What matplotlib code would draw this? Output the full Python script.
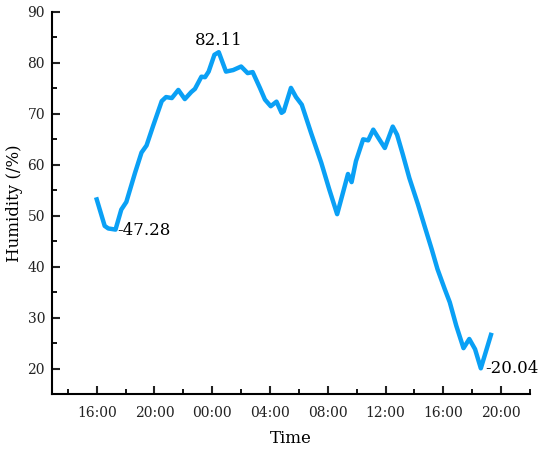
import numpy as np
import matplotlib
matplotlib.use('Agg')
import matplotlib.pyplot as plt
from matplotlib.ticker import MultipleLocator, FuncFormatter

plt.rcParams['font.family'] = ['DejaVu Serif']

# hours counted from 00:00 of the first day (24+ = next day)
hours = [16.0, 16.55, 16.8, 17.3, 17.7, 18.05, 18.65, 19.1, 19.45, 19.9,
         20.5, 20.8, 21.2, 21.65, 22.1, 22.55, 22.8, 23.25, 23.5, 23.75,
         24.15, 24.45, 24.95, 25.45, 26.0, 26.45, 26.8, 27.3, 27.65, 28.05,
         28.45, 28.8, 28.95, 29.45, 29.8, 30.2, 30.85, 31.55, 32.1, 32.65,
         33.05, 33.4, 33.65, 33.95, 34.45, 34.8, 35.15, 35.5, 35.95, 36.5,
         36.8, 37.2, 37.65, 38.25, 38.7, 39.2, 39.6, 40.1, 40.45, 40.9,
         41.4, 41.8, 42.2, 42.6, 43.3]
humidity = [53.2, 48.0, 47.5, 47.28, 51.2, 52.7, 58.4, 62.4, 63.8, 67.6,
            72.5, 73.3, 73.1, 74.7, 72.9, 74.3, 74.9, 77.3, 77.2, 78.3,
            81.6, 82.11, 78.3, 78.6, 79.3, 78.0, 78.2, 75.1, 72.8, 71.5,
            72.4, 70.2, 70.5, 75.1, 73.3, 71.8, 66.2, 60.4, 55.2, 50.3,
            54.5, 58.2, 56.6, 60.7, 65.0, 64.8, 66.9, 65.3, 63.3, 67.5,
            65.9, 62.0, 57.4, 52.2, 48.0, 43.4, 39.5, 35.6, 33.0, 28.4,
            24.0, 25.8, 23.8, 20.04, 26.6]

hours = np.array(hours)
humidity = np.array(humidity)

fig = plt.figure(figsize=(5.5, 4.51), dpi=100)
ax = fig.add_axes([0.0945, 0.1264, 0.869, 0.847])

ax.plot(hours, humidity, color='#0aa0f5', linewidth=3.2, solid_joinstyle='round')

# labels for max / min points
i_max = int(np.argmax(humidity))
ax.annotate(f'{humidity[i_max]:.2f}', (hours[i_max], humidity[i_max]),
            xytext=(0, 2), textcoords='offset points', ha='center', va='bottom',
            fontsize=12)
i_min1 = int(np.argmin(humidity[:10]))
ax.annotate(f'-{humidity[i_min1]:.2f}', (hours[i_min1], humidity[i_min1]),
            xytext=(1, -1), textcoords='offset points', ha='left', va='center',
            fontsize=12)
i_min = int(np.argmin(humidity))
ax.annotate(f'-{humidity[i_min]:.2f}', (hours[i_min], humidity[i_min]),
            xytext=(3, 0), textcoords='offset points', ha='left', va='center',
            fontsize=12)

ax.set_xlim(12.9, 46)
ax.set_ylim(15, 90)
ax.xaxis.set_minor_locator(MultipleLocator(2))
ax.set_xticks(np.arange(16, 45, 4))
ax.xaxis.set_major_formatter(FuncFormatter(lambda v, p: f'{int(v) % 24:02d}:00'))
ax.set_yticks(np.arange(20, 91, 10))
ax.yaxis.set_minor_locator(MultipleLocator(5))

for s in ['top', 'right']:
    ax.spines[s].set_visible(False)
for s in ['left', 'bottom']:
    ax.spines[s].set_linewidth(1.5)

ax.tick_params(which='major', direction='in', length=6, width=1.5, labelsize=10,
               colors='#222222')
ax.tick_params(axis='x', which='major', pad=9)
ax.tick_params(axis='y', which='major', pad=5)
ax.tick_params(which='minor', direction='in', length=3.5, width=1.3)

ax.set_xlabel('Time', fontsize=12, labelpad=7)
ax.set_ylabel('Humidity (/%)', fontsize=12, labelpad=3)

fig.savefig('out.png', dpi=100)
